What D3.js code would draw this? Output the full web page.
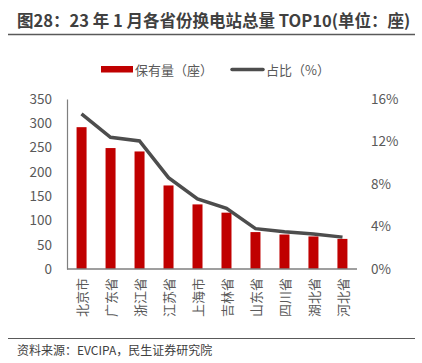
<!DOCTYPE html>
<html>
<head>
<meta charset="utf-8">
<script src="https://cdn.jsdelivr.net/npm/d3@7"></script>
<style>
  body { margin: 0; background: #fff; }
  text { font-family: "Noto Sans CJK SC", "Noto Sans", sans-serif; }
</style>
</head>
<body>
<div class="canvas"></div>
<script>
// data
const provinces = ["北京市", "广东省", "浙江省", "江苏省", "上海市", "吉林省", "山东省", "四川省", "湖北省", "河北省"];
const stations = [292, 249, 242, 172, 133, 116, 76, 71, 67, 62];
const shares = [14.6, 12.4, 12.05, 8.6, 6.6, 5.7, 3.8, 3.5, 3.3, 3.0];
const leftTicks = [0, 50, 100, 150, 200, 250, 300, 350];
const rightTicks = [0, 4, 8, 12, 16];

const dims = { width: 422, height: 363 };
const plot = { left: 67, right: 357, top: 99, bottom: 269 };

const svg = d3
  .select(".canvas")
  .append("svg")
  .attr("width", dims.width)
  .attr("height", dims.height);

// title + rules
svg.append("text")
  .attr("x", 17)
  .attr("y", 27)
  .attr("font-size", 16.5)
  .attr("font-weight", "bold")
  .attr("fill", "#404040")
  .text("图28：23 年 1 月各省份换电站总量 TOP10(单位：座)");

svg.append("line")
  .attr("x1", 8).attr("x2", 415)
  .attr("y1", 34.5).attr("y2", 34.5)
  .attr("stroke", "#595959")
  .attr("stroke-width", 1.5);

svg.append("line")
  .attr("x1", 8).attr("x2", 415)
  .attr("y1", 338.5).attr("y2", 338.5)
  .attr("stroke", "#595959")
  .attr("stroke-width", 1.2);

svg.append("text")
  .attr("x", 17)
  .attr("y", 355)
  .attr("font-size", 12)
  .attr("fill", "#404040")
  .text("资料来源：EVCIPA，民生证券研究院");

// scales
const x = d3.scaleBand()
  .domain(provinces)
  .range([plot.left, plot.right])
  .paddingInner(0.655)
  .paddingOuter(0.33);

const xc = d3.scalePoint()
  .domain(provinces)
  .range([plot.left, plot.right])
  .padding(0.5);

const yL = d3.scaleLinear().domain([0, 350]).range([plot.bottom, plot.top]);
const yR = d3.scaleLinear().domain([0, 16]).range([plot.bottom, plot.top]);

// left axis
const leftAxis = svg.append("g")
  .attr("transform", `translate(${plot.left},0)`)
  .call(d3.axisLeft(yL).tickValues(leftTicks).tickSize(0).tickPadding(15));
leftAxis.select(".domain").attr("stroke", "#7f7f7f").attr("stroke-width", 1.2);
leftAxis.selectAll("text")
  .attr("font-size", 13.5)
  .attr("fill", "#595959")
  .attr("font-family", "'Noto Sans CJK SC', 'Noto Sans', sans-serif");

// right axis (no line)
const rightAxis = svg.append("g")
  .attr("transform", `translate(${plot.right},0)`)
  .call(d3.axisRight(yR).tickValues(rightTicks).tickSize(0).tickPadding(14)
    .tickFormat((d) => d + "%"));
rightAxis.select(".domain").remove();
rightAxis.selectAll("text")
  .attr("font-size", 13.5)
  .attr("fill", "#595959")
  .attr("font-family", "'Noto Sans CJK SC', 'Noto Sans', sans-serif");

// bars
svg.append("g")
  .selectAll("rect")
  .data(stations)
  .join("rect")
  .attr("x", (d, i) => x(provinces[i]))
  .attr("y", (d) => yL(d))
  .attr("width", x.bandwidth())
  .attr("height", (d) => yL(0) - yL(d))
  .attr("fill", "#c00000");

// bottom axis
const bottomAxis = svg.append("g")
  .attr("transform", `translate(0,${plot.bottom})`)
  .call(d3.axisBottom(xc).tickSize(0).tickSizeOuter(0));
bottomAxis.select(".domain")
  .attr("d", `M${plot.left},0H${plot.right}`)
  .attr("stroke", "#7f7f7f")
  .attr("stroke-width", 1.5);
bottomAxis.selectAll("text")
  .attr("transform", "rotate(-90)")
  .attr("text-anchor", "end")
  .attr("x", -9)
  .attr("y", 0)
  .attr("dy", "0.35em")
  .attr("font-size", 13)
  .attr("fill", "#595959")
  .attr("font-family", "'Noto Sans CJK SC', 'Noto Sans', sans-serif");

// share line
const line = d3.line()
  .x((d, i) => xc(provinces[i]))
  .y((d) => yR(d));

svg.append("path")
  .datum(shares)
  .attr("d", line)
  .attr("fill", "none")
  .attr("stroke", "#4d4d4d")
  .attr("stroke-width", 3.5);

// legend
const legend = svg.append("g");
legend.append("rect")
  .attr("x", 101).attr("y", 66)
  .attr("width", 32).attr("height", 6.5)
  .attr("fill", "#c00000");
legend.append("text")
  .attr("x", 135).attr("y", 74.5)
  .attr("font-size", 13)
  .attr("fill", "#595959")
  .text("保有量（座）");
legend.append("line")
  .attr("x1", 232).attr("x2", 263)
  .attr("y1", 69.5).attr("y2", 69.5)
  .attr("stroke", "#4d4d4d")
  .attr("stroke-width", 3.5)
  .attr("stroke-linecap", "round");
legend.append("text")
  .attr("x", 266).attr("y", 74.5)
  .attr("font-size", 13)
  .attr("fill", "#595959")
  .text("占比（%）");
</script>
</body>
</html>
